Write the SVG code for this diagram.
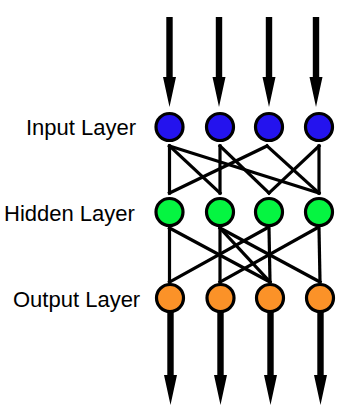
<svg xmlns="http://www.w3.org/2000/svg" width="358" height="418" viewBox="0 0 358 418">
<style>
.lbl{font-family:"Liberation Sans",Arial,sans-serif;font-size:22px;fill:#000}
.node{stroke:#000;stroke-width:3.2}
.in{fill:#2413ee}
.hid{fill:#05f541}
.out{fill:#fb9228}
.conn line{stroke:#000;stroke-width:3.2;stroke-linecap:square}
.arrow{fill:#000}
</style>
<defs>
<path id="arr90" d="M-3.2,0 H3.2 V60 H6.5 L0,90 L-6.5,60 H-3.2 Z"/>
<path id="arr93" d="M-3.2,0 H3.2 V63 H6.5 L0,93 L-6.5,63 H-3.2 Z"/>
</defs>
<g id="labels">
<text class="lbl" x="26" y="135">Input Layer</text>
<text class="lbl" x="4" y="221">Hidden Layer</text>
<text class="lbl" x="13" y="307">Output Layer</text>
</g>
<g id="connectors" class="conn">
<!-- input arrows -->
<use class="arrow" href="#arr90" x="169.5" y="17"/>
<use class="arrow" href="#arr90" x="219" y="17"/>
<use class="arrow" href="#arr90" x="269" y="17"/>
<use class="arrow" href="#arr90" x="316" y="17"/>
<!-- input to hidden -->
<line x1="169.5" y1="146" x2="169.5" y2="193"/>
<line x1="169.5" y1="146" x2="220" y2="193"/>
<line x1="169.5" y1="146" x2="319" y2="193"/>
<line x1="220" y1="146" x2="220" y2="193"/>
<line x1="220" y1="146" x2="269" y2="193"/>
<line x1="267" y1="146" x2="169.5" y2="193"/>
<line x1="267" y1="146" x2="319" y2="193"/>
<line x1="319" y1="146" x2="269" y2="193"/>
<line x1="319" y1="146" x2="319" y2="193"/>
<!-- hidden to output -->
<line x1="169.5" y1="228" x2="169.5" y2="282"/>
<line x1="169.5" y1="228" x2="270" y2="282"/>
<line x1="220" y1="228" x2="220" y2="282"/>
<line x1="220" y1="228" x2="270" y2="282"/>
<line x1="220" y1="228" x2="320" y2="282"/>
<line x1="267" y1="228" x2="169.5" y2="282"/>
<line x1="269" y1="228" x2="270" y2="282"/>
<line x1="317" y1="228" x2="220" y2="282"/>
<line x1="319" y1="228" x2="320" y2="282"/>
<!-- output arrows -->
<use class="arrow" href="#arr93" x="170.5" y="312"/>
<use class="arrow" href="#arr93" x="220.5" y="312"/>
<use class="arrow" href="#arr93" x="270.5" y="312"/>
<use class="arrow" href="#arr93" x="320.5" y="312"/>
</g>
<g id="input1"><circle class="node in" cx="169.5" cy="127" r="13.5"/></g>
<g id="input2"><circle class="node in" cx="220" cy="127" r="13.5"/></g>
<g id="input3"><circle class="node in" cx="269" cy="127" r="13.5"/></g>
<g id="input4"><circle class="node in" cx="319" cy="127" r="13.5"/></g>
<g id="hidden1"><circle class="node hid" cx="169.5" cy="212" r="13.5"/></g>
<g id="hidden2"><circle class="node hid" cx="220" cy="212" r="13.5"/></g>
<g id="hidden3"><circle class="node hid" cx="269" cy="212" r="13.5"/></g>
<g id="hidden4"><circle class="node hid" cx="319" cy="212" r="13.5"/></g>
<g id="output1"><circle class="node out" cx="170" cy="298" r="13.5"/></g>
<g id="output2"><circle class="node out" cx="220.5" cy="298" r="13.5"/></g>
<g id="output3"><circle class="node out" cx="270" cy="298" r="13.5"/></g>
<g id="output4"><circle class="node out" cx="320" cy="298" r="13.5"/></g>
</svg>
